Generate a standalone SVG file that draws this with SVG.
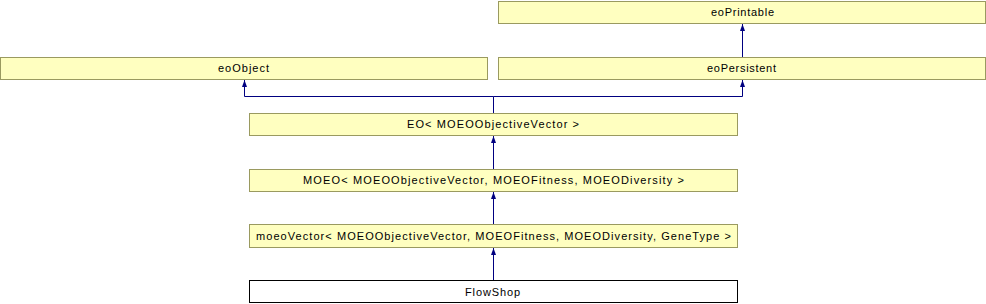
<svg xmlns="http://www.w3.org/2000/svg" width="986" height="304" viewBox="0 0 986 304">
<style>
.n{fill:#ffffc0;stroke:#9a9a60;stroke-width:1}
.w{fill:#ffffff;stroke:#000000;stroke-width:1}
.t{font-family:"Liberation Sans",Arial,sans-serif;font-size:11px;fill:#000;text-anchor:middle}
.e{fill:none;stroke:#000080;stroke-width:1}
</style>
<defs>
<marker id="a" markerWidth="6" markerHeight="7" refX="3" refY="0" orient="0" markerUnits="userSpaceOnUse" viewBox="0 0 6 7">
<path d="M0.5,7 L3,0 L5.5,7 Z" fill="#000080"/>
</marker>
</defs>
<rect width="986" height="304" fill="#ffffff"/>
<g id="connectors">
<path class="e" d="M742.5,57 V24" marker-end="url(#a)"/>
<path class="e" d="M493.5,113 V96.5 H244.5 V80" marker-end="url(#a)"/>
<path class="e" d="M493.5,96.5 H742.5 V80" marker-end="url(#a)"/>
<path class="e" d="M493.5,169 V136" marker-end="url(#a)"/>
<path class="e" d="M493.5,224 V192" marker-end="url(#a)"/>
<path class="e" d="M493.5,280 V248" marker-end="url(#a)"/>
</g>
<g id="eoPrintable"><rect class="n" x="498.5" y="1.5" width="487" height="22"/><text class="t" x="742.5" y="16" textLength="63">eoPrintable</text></g>
<g id="eoObject"><rect class="n" x="0.5" y="57.5" width="487" height="22"/><text class="t" x="243.5" y="72" textLength="51">eoObject</text></g>
<g id="eoPersistent"><rect class="n" x="498.5" y="57.5" width="487" height="22"/><text class="t" x="741.5" y="72" textLength="69">eoPersistent</text></g>
<g id="EO"><rect class="n" x="249.5" y="113.5" width="488" height="22"/><text class="t" x="493" y="128" textLength="172">EO&lt; MOEOObjectiveVector &gt;</text></g>
<g id="MOEO"><rect class="n" x="249.5" y="169.5" width="488" height="22"/><text class="t" x="493.5" y="184" textLength="381">MOEO&lt; MOEOObjectiveVector, MOEOFitness, MOEODiversity &gt;</text></g>
<g id="moeoVector"><rect class="n" x="249.5" y="224.5" width="488" height="23"/><text class="t" x="493.5" y="240" textLength="475">moeoVector&lt; MOEOObjectiveVector, MOEOFitness, MOEODiversity, GeneType &gt;</text></g>
<g id="FlowShop"><rect class="w" x="249.5" y="280.5" width="488" height="22"/><text class="t" x="492.5" y="296" textLength="55">FlowShop</text></g>
</svg>
